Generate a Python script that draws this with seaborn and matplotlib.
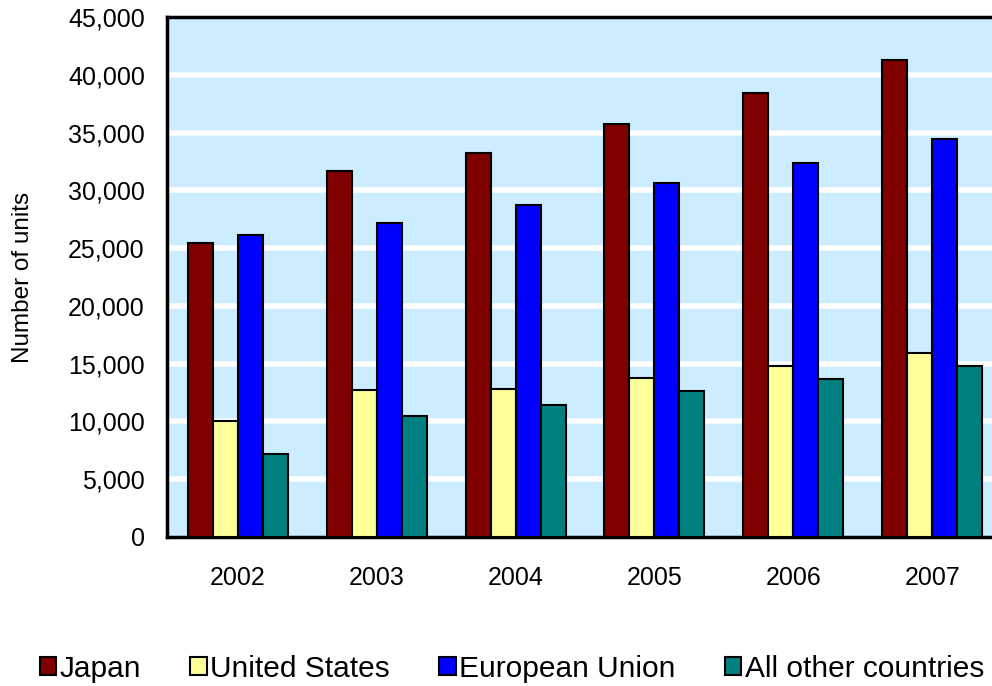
import pandas as pd
import numpy as np
import matplotlib.pyplot as plt
import seaborn as sns

years = ["2002", "2003", "2004", "2005", "2006", "2007"]
japan = [25400, 31700, 33250, 35700, 38450, 41300]
united_states = [10000, 12750, 12800, 13800, 14800, 15900]
european_union = [26100, 27200, 28750, 30650, 32400, 34450]
other_countries = [7200, 10500, 11400, 12600, 13650, 14800]

series_names = ["Japan", "United States", "European Union", "All other countries"]
series_colors = ["#800000", "#FFFF99", "#0000FF", "#008080"]

df = pd.DataFrame({
    "year": years * 4,
    "region": np.repeat(series_names, len(years)),
    "units": japan + united_states + european_union + other_countries,
})

sns.set_style("white")
plt.rcParams["font.family"] = ["Liberation Sans", "DejaVu Sans"]
plt.rcParams.update({"text.color": "black", "axes.labelcolor": "black",
                     "xtick.color": "black", "ytick.color": "black"})

fig = plt.figure(figsize=(9.92, 6.86), dpi=100)
ax = fig.add_axes([167 / 992, 1 - 537 / 686, 836 / 992, 520 / 686])
ax.set_facecolor("#CCECFF")

sns.barplot(data=df, x="year", y="units", hue="region", order=years,
            hue_order=series_names, palette=series_colors, width=0.72,
            edgecolor="black", linewidth=1.5, saturation=1, ax=ax, zorder=3)

ax.set_ylim(0, 45000)
ax.set_xlim(-0.51, 5.51)
ax.set_yticks(range(0, 45001, 5000))
ax.set_yticklabels([f"{v:,}" for v in range(0, 45001, 5000)], fontsize=18)
ax.set_xticklabels(years, fontsize=18)
ax.tick_params(axis="y", length=0, pad=16)
ax.tick_params(axis="x", length=0, pad=21)
for v in range(5000, 45000, 5000):
    ax.axhline(v, color="white", linewidth=4, zorder=1)

for side in ["left", "top", "bottom"]:
    ax.spines[side].set_color("black")
    ax.spines[side].set_linewidth(2.5)
ax.spines["right"].set_visible(False)

ax.set_xlabel("")
ax.set_ylabel("Number of units", fontsize=17.5)
ax.yaxis.set_label_coords(-133 / 836, 0.5)

handles, labels = ax.get_legend_handles_labels()
ax.get_legend().remove()
fig.legend(handles, labels, loc="center", bbox_to_anchor=(512 / 992, 1 - 669 / 686),
           ncol=4, frameon=False, fontsize=21.5, handlelength=0.55,
           handleheight=0.55, handletextpad=0.12, columnspacing=1.65)

plt.savefig("out.png", dpi=100)
